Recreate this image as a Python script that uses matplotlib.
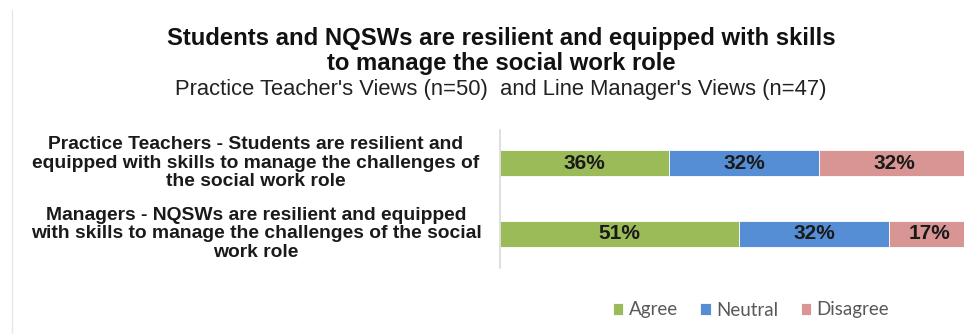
#!/usr/bin/env python3
"""Stacked horizontal bar: resilience of students and NQSWs"""

import matplotlib
matplotlib.use("Agg")
import matplotlib.pyplot as plt
from matplotlib.lines import Line2D

GROUPS = [
    "Practice Teachers - Students are resilient and\n"
    "equipped with skills to manage the challenges of\n"
    "the social work role",
    "Managers - NQSWs are resilient and equipped\n"
    "with skills to manage the challenges of the social\n"
    "work role",
]
CATEGORIES = ["Agree", "Neutral", "Disagree"]
AGREE = [36, 51]
NEUTRAL = [32, 32]
DISAGREE = [32, 17]

COLORS = ["#9bbb59", "#558ed5", "#d99594"]
FONT = "Liberation Sans"

fig = plt.figure(figsize=(9.64, 3.34), dpi=100)
ax = fig.add_axes([500 / 964, 1 - 268 / 334, 469 / 964, 138 / 334])

rows = list(range(len(GROUPS)))
left = [0] * len(GROUPS)
for name, values, color in zip(CATEGORIES, [AGREE, NEUTRAL, DISAGREE], COLORS):
    bars = ax.barh(rows, values, left=left, height=0.38, color=color,
                   edgecolor="white", linewidth=0.6, label=name)
    for bar, v in zip(bars, values):
        ax.text(bar.get_x() + bar.get_width() / 2, bar.get_y() + bar.get_height() / 2,
                f"{v}%", ha="center", va="center", fontsize=15,
                fontweight="bold", family=FONT, color="#1a1a1a")
    left = [l + v for l, v in zip(left, values)]

ax.set_xlim(0, 100)
ax.set_ylim(1.479, -0.465)
ax.set_xticks([])
ax.set_yticks([])
for side in ["top", "right", "bottom"]:
    ax.spines[side].set_visible(False)
ax.spines["left"].set_color("#d9d9d9")
ax.spines["left"].set_linewidth(1.2)

# category labels, centred in the left half
trans = matplotlib.transforms.blended_transform_factory(fig.transFigure, ax.transData)
for r, label in zip(rows, GROUPS):
    ax.text(256 / 964, r, label, transform=trans, ha="center", va="center",
            multialignment="center", fontsize=13.9, fontweight="bold",
            family=FONT, color="#1a1a1a", linespacing=1.12)

cx = 501 / 964
fig.text(cx, 1 - 51 / 334, "Students and NQSWs are resilient and equipped with skills\n"
         "to manage the social work role", ha="center", va="center",
         fontsize=17.2, fontweight="bold", family=FONT, color="#111111",
         linespacing=1.1)
fig.text(cx, 1 - 90 / 334, "Practice Teacher's Views (n=50)  and Line Manager's Views (n=47)",
         ha="center", va="center", fontsize=15.8, family=FONT, color="#222222")

leg = fig.legend(loc="center", bbox_to_anchor=(751 / 964, 1 - 310 / 334), ncol=3,
                 frameon=False, handlelength=0.55, handleheight=0.55,
                 handletextpad=0.3, columnspacing=1.2,
                 prop={"family": "Lato", "size": 13.5})
for t in leg.get_texts():
    t.set_color("#595959")

fig.add_artist(Line2D([12 / 964, 12 / 964], [0, 1 - 10 / 334],
                      transform=fig.transFigure, color="#e2e8f0", linewidth=1))

fig.savefig("out.png", dpi=100)
